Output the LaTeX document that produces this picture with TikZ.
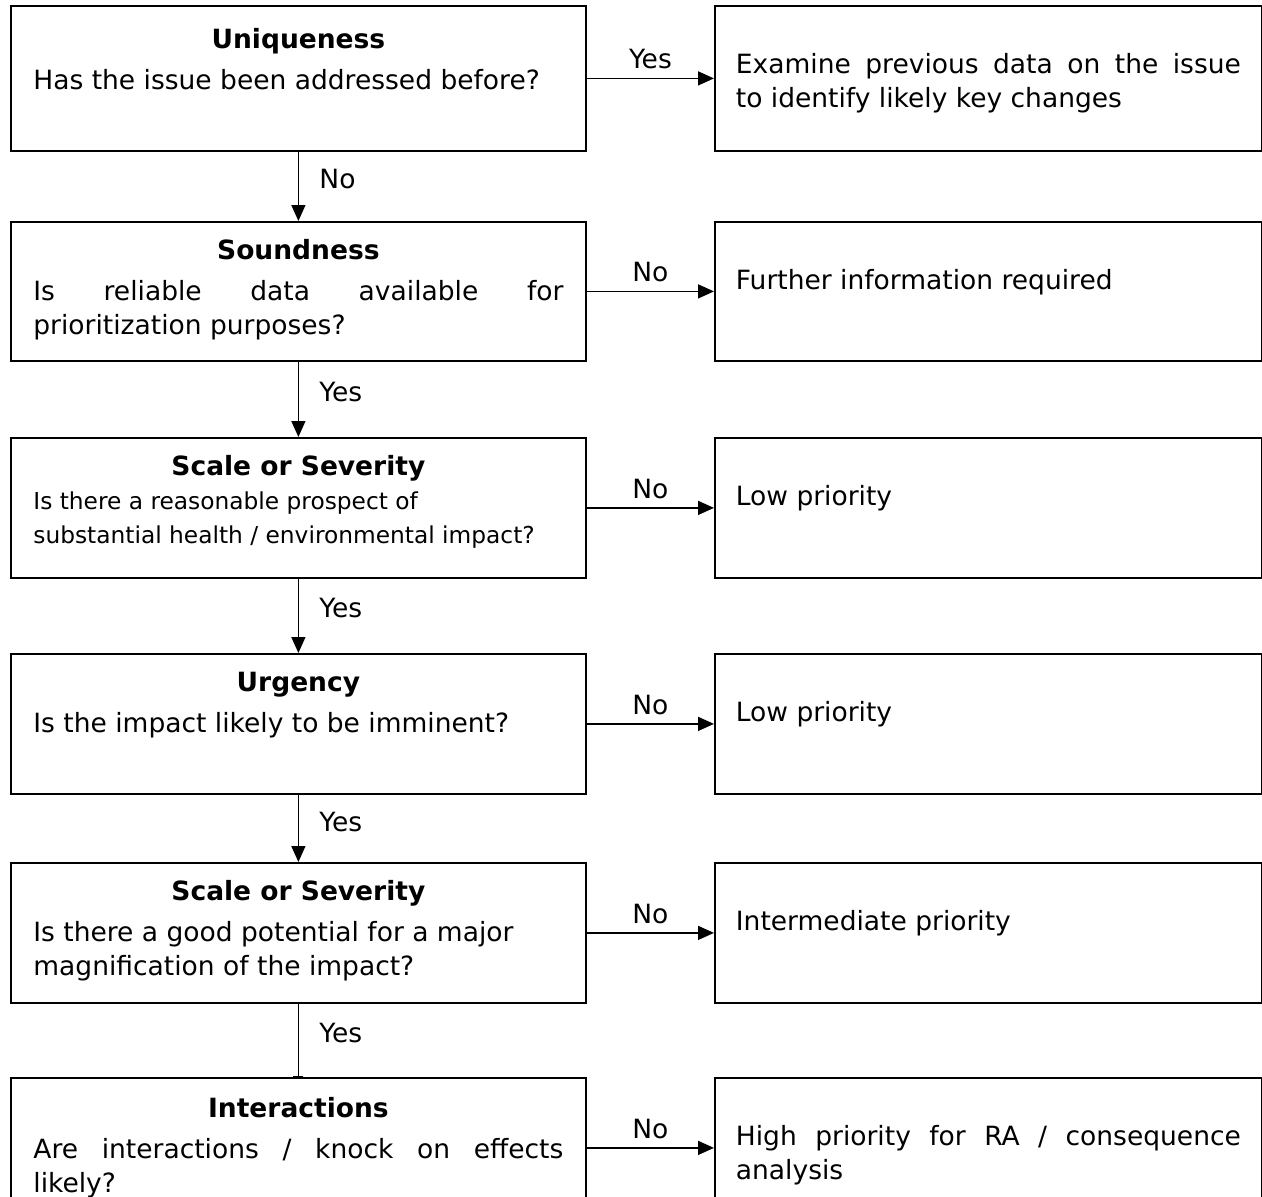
\documentclass[tikz,border=0pt]{standalone}
\usepackage{fontspec}
\setmainfont{DejaVu Sans}
\usetikzlibrary{arrows.meta}

\newcommand{\asktext}[4][0pt]{\parbox[c][#2][t]{530pt}{\fontsize{26.5}{34}\selectfont
  {\centering\rule{0pt}{\dimexpr38pt+#1\relax}\textbf{#3}\par}\vspace{7pt}#4}}
\newcommand{\resulttext}[2]{\parbox[c][#1][t]{505pt}{\fontsize{26.5}{34}\selectfont
  \rule{0pt}{68pt}#2}}

\begin{document}
\begin{tikzpicture}
      [x=1pt, y=-1pt,
      every node/.style={font=\fontsize{26.5}{32}\selectfont},
      askbox/.style={draw, line width=1.8pt, inner xsep=22.5pt, inner ysep=0pt, anchor=north west},
      resultbox/.style={draw, line width=1.8pt, inner xsep=21pt, inner ysep=0pt, anchor=north west},
      arr/.style={line width=1.5pt, -{Triangle[length=16pt,width=14pt]}},
      hlabel/.style={above, yshift=5pt},
      vlabel/.style={pos=0.4, right, xshift=17pt},
      ]
      \useasboundingbox (0,0) rectangle (1262,1197);
      \clip (0,0) rectangle (1262,1197);
      % questions
      \node[askbox] (q1) at (10,5) {\asktext[5pt]{145pt}{Uniqueness}{Has the issue been addressed before?}};
      \node[askbox] (q2) at (10,221) {\asktext{139pt}{Soundness}{Is reliable data available for\linebreak prioritization purposes?}};
      \node[askbox] (q3) at (10,437) {\asktext{140pt}{Scale or Severity}{\vspace{-7pt}\fontsize{23.3}{34}\selectfont
        Is there a reasonable prospect of\\ substantial health / environmental impact?}};
      \node[askbox] (q4) at (10,653) {\asktext{140pt}{Urgency}{Is the impact likely to be imminent?}};
      \node[askbox] (q5) at (10,862) {\asktext{140pt}{Scale or Severity}{Is there a good potential for a major\\ magnification of the impact?}};
      \node[askbox] (q6) at (10,1077) {\asktext[2pt]{140pt}{Interactions}{Are interactions / knock on effects\linebreak likely?}};
      % outcomes
      \node[resultbox] (a1) at (714,5) {\resulttext{145pt}{Examine previous data on the issue\linebreak to identify likely key changes}};
      \node[resultbox] (a2) at (714,221) {\resulttext{139pt}{Further information required}};
      \node[resultbox] (a3) at (714,437) {\resulttext{140pt}{Low priority}};
      \node[resultbox] (a4) at (714,653) {\resulttext{140pt}{Low priority}};
      \node[resultbox] (a5) at (714,862) {\resulttext{140pt}{Intermediate priority}};
      \node[resultbox] (a6) at (714,1077) {\resulttext{140pt}{High priority for RA / consequence\linebreak analysis}};
      % connectors
      \draw[arr] (q1.east) -- node[hlabel]{Yes} (a1.west);
      \draw[arr] (q2.east) -- node[hlabel]{No} (a2.west);
      \draw[arr] (q3.east) -- node[hlabel]{No} (a3.west);
      \draw[arr] (q4.east) -- node[hlabel]{No} (a4.west);
      \draw[arr] (q5.east) -- node[hlabel]{No} (a5.west);
      \draw[arr] (q6.east) -- node[hlabel]{No} (a6.west);
      \draw[arr] (q1.south) -- node[vlabel]{No} (q2.north);
      \draw[arr] (q2.south) -- node[vlabel]{Yes} (q3.north);
      \draw[arr] (q3.south) -- node[vlabel]{Yes} (q4.north);
      \draw[arr] (q4.south) -- node[vlabel]{Yes} (q5.north);
      \draw[line width=1.5pt, -{Bar[width=10pt]}] (q5.south) -- node[vlabel]{Yes} (q6.north);
      \end{tikzpicture}
\end{document}
